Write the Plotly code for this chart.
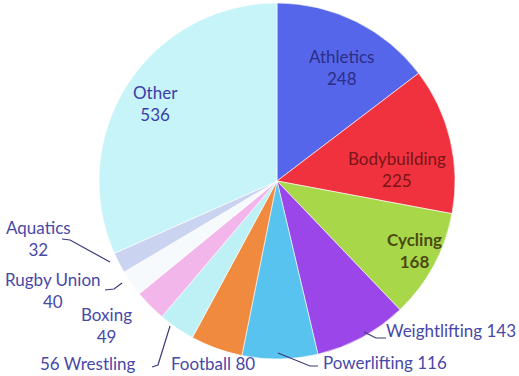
import plotly.graph_objects as go

W, H = 519, 376

sports = ["Athletics", "Bodybuilding", "Cycling", "Weightlifting", "Powerlifting",
          "Football", "Wrestling", "Boxing", "Rugby Union", "Aquatics", "Other"]
counts = [248, 225, 168, 143, 116, 80, 56, 49, 40, 32, 536]
colors = ["#5666EA", "#F0323F", "#A8D84A", "#9A46E8", "#58C3EE",
          "#F08A3E", "#BDF1F5", "#F2B6EA", "#F7FAFD", "#CAD3F0", "#C6F4F8"]

def px(x):
    return x / W

def py(y):
    return 1 - y / H

fig = go.Figure(go.Pie(
    labels=sports, values=counts, sort=False, direction="clockwise", rotation=0,
    marker=dict(colors=colors, line=dict(color="white", width=0.6)),
    textinfo="none", hoverinfo="label+value", showlegend=False,
    domain=dict(x=[px(99), px(455)], y=[py(359), py(3)]),
))

FONT = "Lato, 'Open Sans', sans-serif"
v = dict(zip(sports, counts))

labels = [
    (f"Athletics<br>{v['Athletics']}", 341, 67, "#2B2E86"),
    (f"Bodybuilding<br>{v['Bodybuilding']}", 397, 169, "#7A1418"),
    (f"<b>Cycling</b><br><b>{v['Cycling']}</b>", 414, 251, "#4A4A12"),
    (f"Other<br>{v['Other']}", 155, 103, "#3C3CA8"),
    (f"Aquatics<br>{v['Aquatics']}", 38, 238, "#4848A8"),
    (f"Rugby Union<br>{v['Rugby Union']}", 53, 290, "#4848A8"),
    (f"Boxing<br>{v['Boxing']}", 106, 325, "#4848A8"),
    (f"{v['Wrestling']} Wrestling", 88, 363, "#4848A8"),
    (f"Football {v['Football']}", 213, 363, "#4848A8"),
    (f"Powerlifting {v['Powerlifting']}", 385, 362, "#4848A8"),
    (f"Weightlifting {v['Weightlifting']}", 451, 330, "#4848A8"),
]
anns = []
for t, x, y, c in labels:
    anns.append(dict(text=t, x=px(x), y=py(y), xref="paper", yref="paper",
                     showarrow=False, xanchor="center", yanchor="middle",
                     font=dict(family=FONT, size=17, color=c), align="center"))

leaders = [
    [(62, 239), (70, 240), (110, 262)],
    [(105, 290), (114, 289), (122, 283)],
    [(152, 367), (158, 365), (170, 326)],
    [(278, 353), (310, 366), (318, 366)],
    [(364, 332), (376, 338), (386, 338)],
]
shapes = []
for pts in leaders:
    path = "M " + " L ".join(f"{px(a):.4f},{py(b):.4f}" for a, b in pts)
    shapes.append(dict(type="path", path=path, xref="paper", yref="paper",
                       line=dict(color="#3A3A7A", width=1.2)))

fig.update_layout(width=W, height=H, margin=dict(l=0, r=0, t=0, b=0),
                  paper_bgcolor="white", plot_bgcolor="white",
                  annotations=anns, shapes=shapes)
fig.write_html("out.html", config={"displayModeBar": False},
               post_script="document.body.style.margin='0';document.body.style.overflow='hidden';")
